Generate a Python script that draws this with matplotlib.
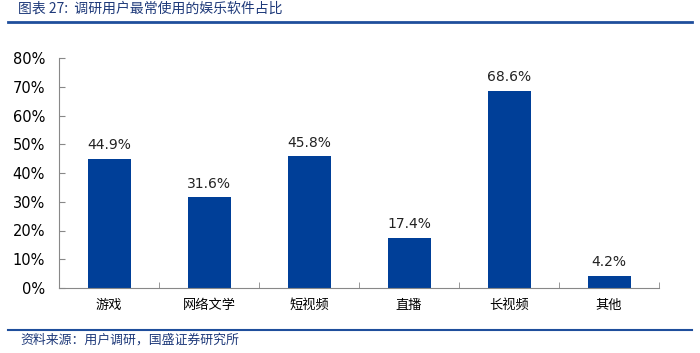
import numpy as np
import matplotlib.pyplot as plt
from matplotlib.lines import Line2D

plt.rcParams['font.family'] = ['Noto Sans CJK SC', 'DejaVu Sans']

categories = ['游戏', '网络文学', '短视频', '直播', '长视频', '其他']
shares = [44.9, 31.6, 45.8, 17.4, 68.6, 4.2]
yticks = [0, 10, 20, 30, 40, 50, 60, 70, 80]

bar_color = '#003f98'
title_color = '#1f3a7a'

fig = plt.figure(figsize=(7, 3.53), dpi=100)
ax = fig.add_axes([59/700, 1-288/353, 600/700, 230/353])

x = np.arange(len(categories))
bars = ax.bar(x, shares, width=0.43, color=bar_color)
for xi, v in zip(x, shares):
    ax.text(xi, v + 2.3, f'{v:.1f}%', ha='center', va='bottom', fontsize=10,
            family='DejaVu Sans', color='#222222')

ax.set_xlim(-0.5, len(categories) - 0.5)
ax.set_ylim(0, 80)
ax.set_yticks(yticks)
ax.set_yticklabels([f'{t}%' for t in yticks], fontsize=10.5, family='DejaVu Sans')
ax.set_xticks(x)
ax.set_xticklabels(categories, fontsize=9.5)
ax.set_xticks(np.arange(len(categories)) + 0.5, minor=True)
ax.tick_params(axis='x', which='major', length=0, pad=8)
ax.tick_params(axis='x', which='minor', direction='in', length=4, color='#888888')
ax.tick_params(axis='y', direction='in', length=4, color='#888888', pad=10)
for s in ['top', 'right']:
    ax.spines[s].set_visible(False)
for s in ['left', 'bottom']:
    ax.spines[s].set_color('#888888')

# header / footer
fig.text(18/700, 1-9/353, '图表 27:  调研用户最常使用的娱乐软件占比', fontsize=10,
         color=title_color, style='italic', va='center', ha='left')
fig.add_artist(Line2D([8/700, 692/700], [1-22/353, 1-22/353], color='#1f4e9c', lw=2))
fig.add_artist(Line2D([8/700, 692/700], [1-330/353, 1-330/353], color='#1f4e9c', lw=1.5))
fig.text(20/700, 1-340/353, '资料来源：用户调研，国盛证券研究所', fontsize=9.3,
         color=title_color, style='italic', va='center', ha='left')

fig.savefig('out.png', dpi=100)
